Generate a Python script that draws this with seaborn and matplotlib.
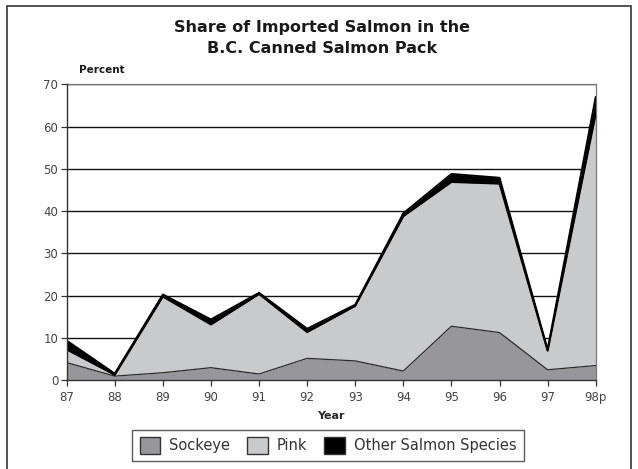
import numpy as np
import pandas as pd
import matplotlib
matplotlib.use("Agg")
import matplotlib.pyplot as plt
from matplotlib.patches import Rectangle, Patch
import seaborn as sns

years = ["87", "88", "89", "90", "91", "92", "93", "94", "95", "96", "97", "98p"]
sockeye = [4.2, 1.0, 1.8, 3.0, 1.5, 5.2, 4.6, 2.2, 12.8, 11.3, 2.5, 3.5]
pink = [3.1, 0.3, 18.0, 10.2, 18.9, 6.2, 13.0, 36.6, 34.1, 35.2, 4.5, 59.5]
other = [2.1, 0.3, 0.5, 1.2, 0.3, 0.8, 0.3, 0.7, 1.9, 1.4, 0.3, 4.0]
y_ticks = [0, 10, 20, 30, 40, 50, 60, 70]

sns.set_theme(style="white")
plt.rcParams["font.family"] = ["DejaVu Sans"]

c_sock = "#97979b"
c_pink = "#c9cacc"
c_other = "#000000"

fig = plt.figure(figsize=(6.38, 4.69), dpi=100)
ax = fig.add_axes([0.1045, 0.189, 0.8292, 0.6313])

x = np.arange(len(years))
s = np.array(sockeye)
p = s + np.array(pink)
t = p + np.array(other)

ax.stackplot(x, s, np.array(pink), np.array(other),
             colors=[c_sock, c_pink, c_other], linewidth=0, zorder=2)

# boundary lines between the stacked layers
df = pd.DataFrame({"x": x, "sock": s, "pinktop": p, "total": t})
sns.lineplot(data=df, x="x", y="sock", ax=ax, color="#2a2a2a", lw=0.9, zorder=3)
sns.lineplot(data=df, x="x", y="pinktop", ax=ax, color="#000000", lw=1.4, zorder=3)
sns.lineplot(data=df, x="x", y="total", ax=ax, color="#000000", lw=1.4, zorder=3)

ax.set_xlim(0, len(years) - 1)
ax.set_ylim(0, 70)
ax.set_yticks(y_ticks)
ax.set_xticks(x)
ax.set_xticklabels(years)
ax.set_xlabel("Year", fontsize=8, fontweight="bold", labelpad=5)
ax.set_ylabel("")

for yv in y_ticks[1:]:
    ax.axhline(yv, color="#111111", lw=1.0, zorder=1)

ax.tick_params(axis="both", which="both", direction="out", length=4, width=0.9,
               colors="#333333", labelsize=8.5, labelcolor="#444444",
               left=True, bottom=True)
ax.tick_params(axis="y", pad=2)
ax.tick_params(axis="x", pad=4)

for side in ["left", "bottom"]:
    ax.spines[side].set_color("#333333")
    ax.spines[side].set_linewidth(1.0)
for side in ["top", "right"]:
    ax.spines[side].set_color("#777777")
    ax.spines[side].set_linewidth(0.9)
ax.spines["left"].set_zorder(4)
ax.spines["bottom"].set_zorder(4)

fig.text(0.505, 0.957, "Share of Imported Salmon in the\nB.C. Canned Salmon Pack",
         ha="center", va="top", fontsize=11.5, fontweight="bold",
         color="#1a1a1a", linespacing=1.5)
fig.text(0.124, 0.850, "Percent", ha="left", va="center", fontsize=7.5,
         fontweight="bold", color="#1a1a1a")

handles = [Patch(facecolor=c_sock, edgecolor="#333333", label="Sockeye"),
           Patch(facecolor=c_pink, edgecolor="#333333", label="Pink"),
           Patch(facecolor=c_other, edgecolor="#333333", label="Other Salmon Species")]
leg = fig.legend(handles=handles, loc="center", bbox_to_anchor=(0.514, 0.050),
                 ncol=3, frameon=True, fancybox=False, fontsize=10.5,
                 handlelength=1.4, handleheight=1.4, handletextpad=0.6,
                 columnspacing=1.2, borderpad=0.5)
leg.get_frame().set_edgecolor("#333333")
leg.get_frame().set_linewidth(1.0)
for txt in leg.get_texts():
    txt.set_color("#333333")

# outer frame around the figure
fig.patches.append(Rectangle((7 / 638, -0.05), (631 - 7) / 638, 1 - 6 / 469 + 0.05,
                             transform=fig.transFigure, fill=False,
                             edgecolor="#444444", linewidth=1.3))

fig.savefig("out.png", dpi=100)
